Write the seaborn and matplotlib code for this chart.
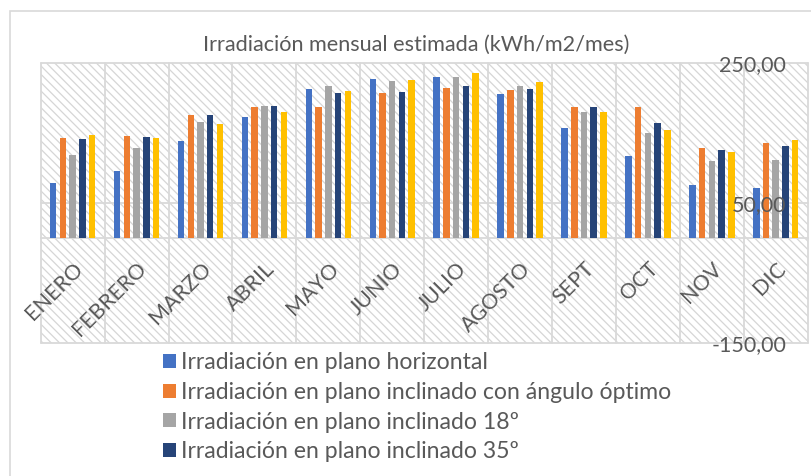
import matplotlib
matplotlib.use("Agg")
import matplotlib.pyplot as plt
from matplotlib.patches import Rectangle
import numpy as np
import pandas as pd
import seaborn as sns

# Monthly estimated irradiation (kWh/m2/mes)
months = ["ENERO", "FEBRERO", "MARZO", "ABRIL", "MAYO", "JUNIO",
          "JULIO", "AGOSTO", "SEPT", "OCT", "NOV", "DIC"]

horizontal = [78, 95, 138, 173, 213, 227, 230, 205, 157, 117, 76, 71]
optimo = [143, 145, 175, 187, 187, 207, 214, 211, 186, 186, 128, 136]
incl_18 = [118, 128, 165, 188, 217, 224, 230, 217, 180, 150, 109, 111]
incl_35 = [141, 144, 175, 188, 207, 208, 217, 212, 186, 164, 126, 131]
serie_5 = [147, 142, 163, 179, 210, 225, 235, 222, 179, 154, 123, 140]

series_names = [
    "Irradiación en plano horizontal",
    "Irradiación en plano inclinado con ángulo óptimo",
    "Irradiación en plano inclinado 18º",
    "Irradiación en plano inclinado 35º",
    "Serie5",
]
series_values = [horizontal, optimo, incl_18, incl_35, serie_5]
colors = ["#4472C4", "#ED7D31", "#A5A5A5", "#264478", "#FFC000"]

y_ticks = [-150, 50, 250]
y_tick_labels = ["-150,00", "50,00", "250,00"]
title = "Irradiación mensual estimada (kWh/m2/mes)"

df = pd.DataFrame({
    "mes": np.tile(months, len(series_names)),
    "serie": np.repeat(series_names, len(months)),
    "valor": np.concatenate(series_values),
})

sns.set_style("white")
plt.rcParams["font.family"] = ["Lato", "DejaVu Sans"]
plt.rcParams["hatch.linewidth"] = 0.9

TEXT = "#595959"
GRID = "#d9d9d9"
W, H = 811, 476

fig = plt.figure(figsize=(W / 100, H / 100), dpi=100)
ax = fig.add_axes([40.7 / W, 1 - 342.7 / H, 767 / W, 280 / H])

# outer chart frame
fig.patches.append(Rectangle((10 / W, -0.2), 1.2, 1.2 - 11 / H,
                             transform=fig.transFigure, fill=False,
                             edgecolor=GRID, linewidth=1.2, zorder=0))

# hatched plot area
ax.add_patch(Rectangle((0, 0), 1, 1, transform=ax.transAxes,
                       facecolor="white", edgecolor="#d6d6d6",
                       hatch="\\\\\\\\", linewidth=0, zorder=0.1))

sns.barplot(data=df, x="mes", y="valor", hue="serie", order=months,
            hue_order=series_names, palette=colors, saturation=1,
            width=0.76, gap=0.33, linewidth=0, ax=ax, zorder=2)

handles, labels = ax.get_legend_handles_labels()
if ax.get_legend() is not None:
    ax.get_legend().remove()

ax.set_xlim(-0.5, len(months) - 0.5)
ax.set_ylim(-150, 250)
ax.set_xlabel("")
ax.set_ylabel("")

# value gridlines on the main axes; labels on a twin axes drawn above bars
ax.set_yticks(y_ticks)
ax.tick_params(axis="y", length=0, labelleft=False, labelright=False)

ax2 = ax.twinx()
ax2.set_ylim(ax.get_ylim())
ax2.set_yticks(y_ticks)
ax2.set_yticklabels(y_tick_labels)
ax2.tick_params(axis="y", length=0, pad=-15.5, labelsize=15.5,
                labelcolor=TEXT)
for lbl in ax2.get_yticklabels():
    lbl.set_horizontalalignment("right")
for s in ax2.spines.values():
    s.set_visible(False)
ax2.patch.set_visible(False)

# category axis crosses at zero
for s in ["left", "right", "top"]:
    ax.spines[s].set_visible(False)
ax.spines["bottom"].set_position(("data", 0))
ax.spines["bottom"].set_color(GRID)
ax.spines["bottom"].set_linewidth(1.3)
ax.spines["bottom"].set_zorder(1.5)

# major x ticks: category boundaries (gridlines only);
# minor x ticks: category centres carrying the month labels
ax.set_xticks(np.arange(-0.5, len(months), 1.0))
ax.set_xticklabels([])
ax.set_xticks(np.arange(len(months)), minor=True)
ax.set_xticklabels(months, minor=True)
ax.tick_params(axis="x", which="both", length=0)
ax.tick_params(axis="x", which="minor", pad=15, labelsize=15.5,
               labelcolor=TEXT)
for lbl in ax.get_xticklabels(minor=True):
    lbl.set_rotation(45)
    lbl.set_horizontalalignment("right")
    lbl.set_verticalalignment("top")
    lbl.set_rotation_mode("anchor")

ax.grid(False)
ax.grid(True, axis="y", which="major", color=GRID, linewidth=1.3)
ax.grid(True, axis="x", which="major", color=GRID, linewidth=1.3)
ax.set_axisbelow(True)
for t in ax.xaxis.get_major_ticks() + ax.yaxis.get_major_ticks():
    t.gridline.set_clip_on(False)

fig.text(416 / W, 1 - 45 / H, title, ha="center", va="center",
         fontsize=15.6, color=TEXT)

fig.legend(handles[:4], labels[:4], loc="upper left",
           bbox_to_anchor=(163 / W, 1 - 352 / H), frameon=False,
           fontsize=16.6, labelcolor=TEXT, handlelength=0.55,
           handleheight=0.55, handletextpad=0.25, labelspacing=0.38,
           borderpad=0, borderaxespad=0)

fig.savefig("out.png", dpi=100)
